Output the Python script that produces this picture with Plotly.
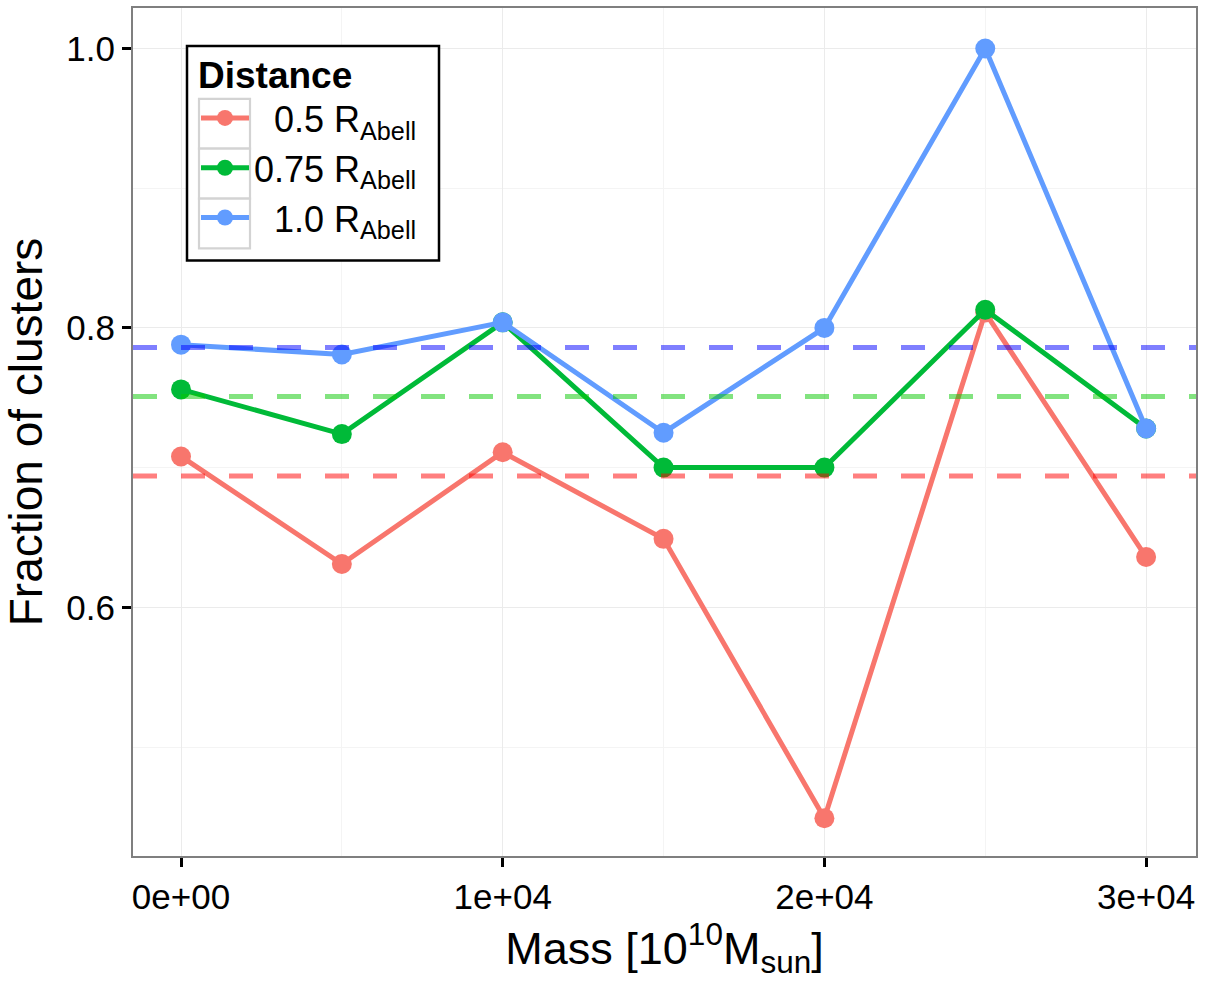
import plotly.graph_objects as go

mass = [0, 5000, 10000, 15000, 20000, 25000, 30000]
frac_05 = [0.708, 0.631, 0.711, 0.649, 0.449, 0.811, 0.636]
frac_075 = [0.756, 0.724, 0.804, 0.700, 0.700, 0.813, 0.728]
frac_10 = [0.788, 0.781, 0.804, 0.725, 0.800, 1.000, 0.728]
mean_05 = 0.694
mean_075 = 0.751
mean_10 = 0.786

series_names = ["&nbsp;&nbsp;0.5 R<sub>Abell</sub>", "0.75 R<sub>Abell</sub>", "&nbsp;&nbsp;1.0 R<sub>Abell</sub>"]
series_colors = ["#F8766D", "#00BA38", "#619CFF"]
mean_colors = ["rgba(255,0,0,0.5)", "rgba(5,200,0,0.5)", "rgba(0,0,255,0.5)"]

x_tickvals = [0, 10000, 20000, 30000]
x_ticktext = ["0e+00", "1e+04", "2e+04", "3e+04"]
y_tickvals = [0.6, 0.8, 1.0]
y_ticktext = ["0.6", "0.8", "1.0"]

W, H = 1212, 983
ML, MR, MT, MB = 133, 16, 6, 127
PW, PH = W - ML - MR, H - MT - MB


def px_x(px):
    return (px - ML) / PW


def px_y(py):
    return 1 - (py - MT) / PH


fig = go.Figure()
for name, vals, col in zip(series_names, [frac_05, frac_075, frac_10], series_colors):
    fig.add_trace(go.Scatter(x=mass, y=vals, mode="lines+markers", name=name,
                             line=dict(color=col, width=5),
                             marker=dict(color=col, size=20)))

for m, col in zip([mean_05, mean_075, mean_10], mean_colors):
    fig.add_shape(type="line", xref="paper", x0=0, x1=1, yref="y", y0=m, y1=m,
                  line=dict(color=col, width=5, dash="24px,24px"), layer="above")

# legend frame and key boxes (decoration)
fig.add_shape(type="rect", xref="paper", yref="paper",
              x0=px_x(187), x1=px_x(439), y0=px_y(259), y1=px_y(44),
              line=dict(color="black", width=2.5), fillcolor="white", layer="above")
for top in [97, 147, 197]:
    fig.add_shape(type="rect", xref="paper", yref="paper",
                  x0=px_x(199), x1=px_x(250), y0=px_y(top + 50), y1=px_y(top),
                  line=dict(color="#D3D3D3", width=2.2), fillcolor="white", layer="above")

font = "Liberation Sans, Arial, Helvetica, sans-serif"
fig.update_layout(
    width=W, height=H,
    margin=dict(l=ML, r=MR, t=MT, b=MB),
    paper_bgcolor="white", plot_bgcolor="white",
    font=dict(family=font, color="black", size=35),
    showlegend=True,
    legend=dict(x=px_x(196), y=px_y(38), xanchor="left", yanchor="top",
                borderwidth=0, bgcolor="rgba(0,0,0,0)",
                title=dict(text="<b>Distance</b>", font=dict(size=37)),
                font=dict(size=36), itemwidth=48, itemsizing="trace"),
    xaxis=dict(range=[-1492, 31551], tickvals=x_tickvals, ticktext=x_ticktext,
               showgrid=True, gridcolor="#EBEBEB", gridwidth=1.2,
               minor=dict(dtick=5000, tick0=5000, showgrid=True, gridcolor="#F4F4F4", gridwidth=1.2, ticks=""),
               ticks="outside", ticklen=9, tickwidth=2.5, tickcolor="black",
               showline=True, linecolor="#7F7F7F", linewidth=2, mirror=True, zeroline=False,
               tickfont=dict(size=35),
               title=dict(text="Mass [10<sup>10</sup>M<sub>sun</sub>]", font=dict(size=45), standoff=10)),
    yaxis=dict(range=[0.422, 1.029], tickvals=y_tickvals, ticktext=y_ticktext,
               showgrid=True, gridcolor="#EBEBEB", gridwidth=1.2,
               minor=dict(dtick=0.1, tick0=0.5, showgrid=True, gridcolor="#F4F4F4", gridwidth=1.2, ticks=""),
               ticks="outside", ticklen=9, tickwidth=2.5, tickcolor="black",
               showline=True, linecolor="#7F7F7F", linewidth=2, mirror=True, zeroline=False,
               tickfont=dict(size=35),
               title=dict(text="Fraction of clusters", font=dict(size=46), standoff=12)),
)

fig.write_html("out.html")
